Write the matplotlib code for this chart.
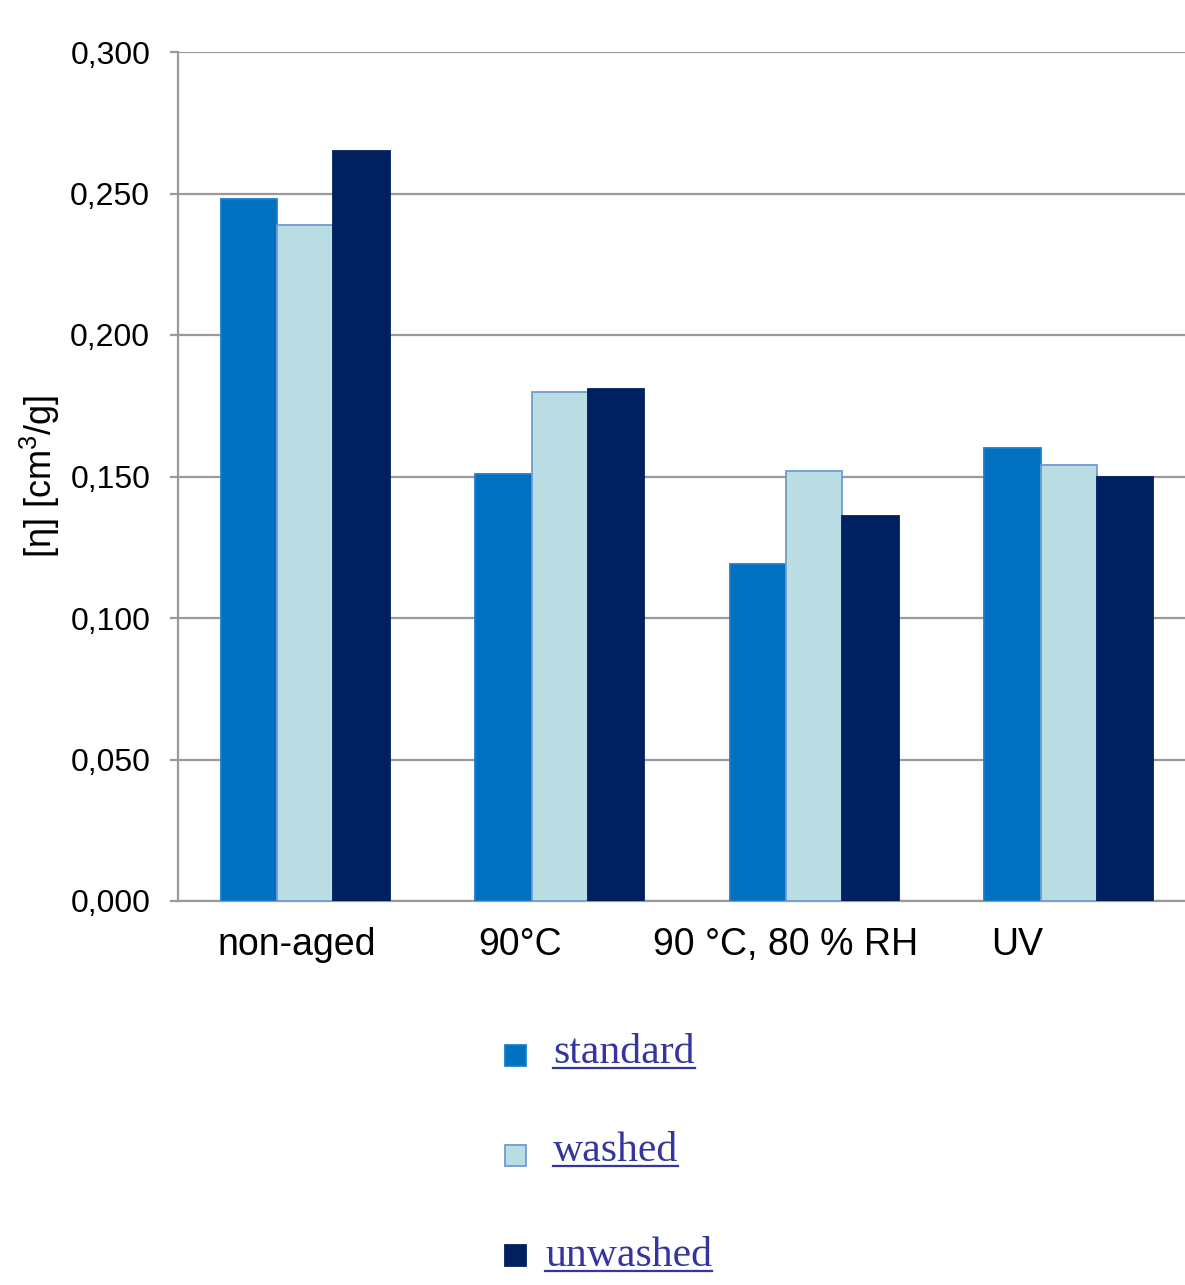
import matplotlib
matplotlib.use("Agg")
import matplotlib.pyplot as plt
from matplotlib.patches import Rectangle
from matplotlib.lines import Line2D
from matplotlib.transforms import blended_transform_factory
import numpy as np

# Intrinsic viscosity by ageing condition and sample treatment
categories = ["non-aged", "90°C", "90 °C, 80 % RH", "UV"]
series_names = ["standard", "washed", "unwashed"]
standard = [0.248, 0.151, 0.119, 0.160]
washed = [0.239, 0.180, 0.152, 0.154]
unwashed = [0.265, 0.181, 0.136, 0.150]
yticks = [0.0, 0.05, 0.10, 0.15, 0.20, 0.25, 0.30]
ytick_labels = ["0,000", "0,050", "0,100", "0,150", "0,200", "0,250", "0,300"]

# category label centres (data x) below the axis
label_x = [-0.032, 0.844, 1.889, 2.797]

fills = ["#0070C0", "#B9DDE2", "#002060"]
edges = ["#1A7ECB", "#6E9CD2", "#002060"]
legend_color = "#3535A0"

W, H = 1185, 1285
fig = plt.figure(figsize=(W / 100, H / 100), dpi=100)
fig.patch.set_facecolor("white")
plt.rcParams["mathtext.fontset"] = "custom"
plt.rcParams["mathtext.rm"] = "Liberation Sans"

left_px, right_px, top_px, bottom_px = 178, 1196, 52, 901
ax = fig.add_axes([left_px / W, (H - bottom_px) / H,
                   (right_px - left_px) / W, (bottom_px - top_px) / H])

x = np.arange(len(categories))
bw = 0.222
for i, (vals, fc, ec) in enumerate(zip([standard, washed, unwashed], fills, edges)):
    ax.bar(x + (i - 1) * bw, vals, width=bw, color=fc, edgecolor=ec,
           linewidth=1.3, zorder=3, label=series_names[i])

ax.set_xlim(-0.5, 3.5)
ax.set_ylim(0, 0.3)
ax.set_yticks(yticks)
ax.set_yticklabels(ytick_labels, fontsize=23, family="Liberation Sans")
ax.set_xticks([])
ax.yaxis.grid(True, color="#9A9A9A", linewidth=1.6, zorder=0)
ax.set_axisbelow(True)

for side in ["top", "right"]:
    ax.spines[side].set_visible(False)
ax.spines["left"].set_color("#9A9A9A")
ax.spines["left"].set_linewidth(1.6)
ax.spines["bottom"].set_color("#9A9A9A")
ax.spines["bottom"].set_linewidth(1.6)
ax.tick_params(axis="y", length=6, width=1.6, color="#9A9A9A", pad=14)

ax.set_ylabel("[η] [cm$\\mathrm{^3}$/g]", fontsize=26, family="Liberation Sans")
ax.yaxis.set_label_coords(-0.114, 0.5)

trans = blended_transform_factory(ax.transData, ax.transAxes)
for xl, lab in zip(label_x, categories):
    ax.text(xl, -0.0515, lab, transform=trans, ha="center", va="center",
            fontsize=27, family="Liberation Sans", color="black")

# legend drawn as stacked entries with underlined serif labels
leg_square = [(505, 1045), (505, 1145), (505, 1245)]
leg_text = [(553, 1063), (553, 1161), (545, 1266)]
texts = []
for (sx, sy), (tx, ty), name, fc, ec in zip(leg_square, leg_text, series_names, fills, edges):
    fig.patches.append(Rectangle((sx / W, (H - sy - 21) / H), 21 / W, 21 / H,
                                 transform=fig.transFigure, facecolor=fc,
                                 edgecolor=ec, linewidth=1.3))
    t = fig.text(tx / W, (H - ty) / H, name, fontsize=30, family="Liberation Serif",
                 color=legend_color, ha="left", va="baseline")
    texts.append((t, ty))

fig.canvas.draw()
renderer = fig.canvas.get_renderer()
for t, ty in texts:
    bb = t.get_window_extent(renderer)
    yline = (H - ty - 5) / H
    fig.lines.append(Line2D([bb.x0 / W, bb.x1 / W], [yline, yline],
                            transform=fig.transFigure, color=legend_color,
                            linewidth=1.6))

fig.savefig("out.png", dpi=100, facecolor="white")
